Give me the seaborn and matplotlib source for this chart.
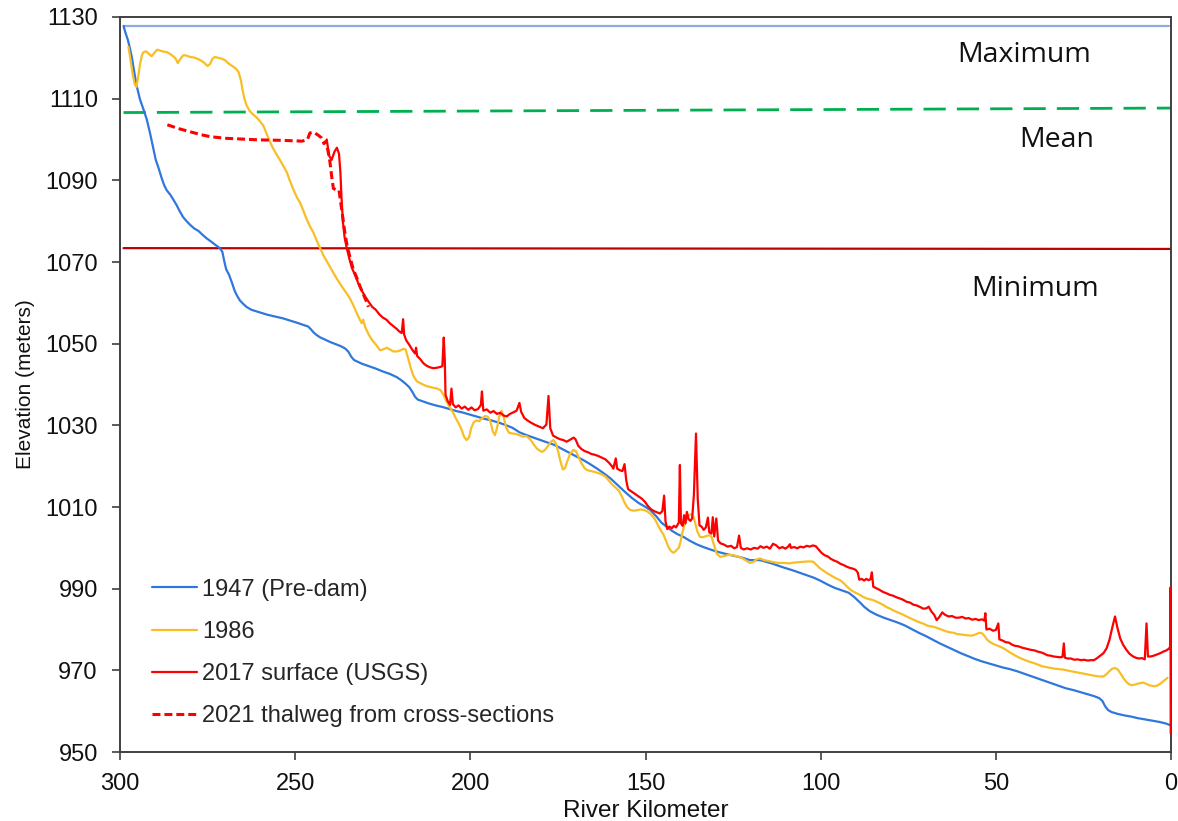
import matplotlib
matplotlib.use("Agg")
import matplotlib.pyplot as plt
import seaborn as sns
import pandas as pd

# ---- profile data: river kilometer vs. elevation (m) ----
km_1947 = [299.0, 298.4, 297.8, 297.2, 296.6, 296.0, 295.3, 294.8, 294.3, 293.4, 292.4, 291.5,
           290.5, 289.8, 289.0, 288.1, 287.4, 286.7, 285.6, 284.8, 283.9, 283.0, 282.0, 281.0,
           280.0, 278.8, 277.6, 276.5, 275.3, 274.0, 272.8, 271.5, 270.8, 270.2, 269.7, 268.9,
           268.0, 267.3, 266.7, 265.8, 264.9, 263.9, 262.5, 261.0, 259.5, 258.0, 256.5, 255.0,
           253.5, 252.0, 250.5, 249.0, 247.7, 246.3, 245.5, 244.8, 244.0, 243.0, 241.5, 240.0,
           238.5, 237.0, 235.7, 234.8, 234.0, 233.2, 232.2, 231.0, 229.0, 227.0, 225.0, 223.0,
           221.0, 219.8, 218.5, 217.4, 216.5, 215.8, 215.0, 214.0, 212.0, 210.0, 208.0, 206.0,
           204.0, 202.0, 200.0, 198.0, 196.0, 194.0, 192.0, 190.0, 188.0, 186.0, 184.0, 182.0,
           180.0, 178.0, 176.0, 174.0, 172.0, 170.0, 168.0, 166.0, 164.0, 162.0, 160.0, 158.0,
           156.0, 154.0, 152.0, 150.0, 148.7, 147.0, 145.5, 144.0, 142.5, 141.0, 139.2, 137.5,
           135.5, 133.5, 131.5, 129.7, 127.5, 125.0, 122.5, 120.2, 117.3, 114.0, 111.0, 108.0,
           105.0, 102.0, 100.2, 98.0, 96.0, 94.0, 92.0, 90.5, 89.0, 87.5, 86.0, 84.0,
           82.0, 80.0, 78.0, 76.0, 74.0, 72.0, 70.0, 68.0, 66.0, 64.0, 62.0, 60.0,
           58.0, 56.0, 54.0, 52.0, 50.0, 48.0, 46.0, 44.0, 42.0, 40.0, 38.0, 36.0,
           34.0, 32.0, 30.0, 28.0, 26.0, 24.0, 22.0, 20.5, 19.6, 18.8, 18.0, 17.0,
           15.5, 13.5, 11.5, 9.5, 7.5, 5.5, 3.5, 1.5, 0.3]
elev_1947 = [1127.8, 1126.0, 1124.5, 1122.4, 1120.0, 1116.8, 1113.3, 1111.5, 1109.8, 1107.6, 1105.0, 1101.8,
             1097.8, 1095.0, 1093.0, 1090.5, 1088.8, 1087.6, 1086.4, 1085.3, 1084.0, 1082.5, 1081.0, 1080.0,
             1079.1, 1078.2, 1077.6, 1076.7, 1075.8, 1075.0, 1074.2, 1073.4, 1072.5, 1070.0, 1068.2, 1066.9,
             1064.8, 1063.0, 1061.9, 1060.6, 1059.8, 1059.0, 1058.3, 1057.9, 1057.5, 1057.1, 1056.8, 1056.5,
             1056.2, 1055.8, 1055.4, 1055.0, 1054.6, 1054.2, 1053.5, 1052.8, 1052.2, 1051.6, 1051.0, 1050.4,
             1049.9, 1049.4, 1048.8, 1048.0, 1046.8, 1046.0, 1045.6, 1045.1, 1044.5, 1043.9, 1043.2, 1042.6,
             1041.8, 1041.1, 1040.2, 1039.3, 1038.1, 1037.0, 1036.3, 1036.0, 1035.4, 1034.9, 1034.5, 1034.0,
             1033.5, 1033.1, 1032.6, 1032.1, 1031.6, 1031.2, 1030.7, 1030.1, 1029.4, 1028.3, 1027.6, 1027.0,
             1026.4, 1025.8, 1025.2, 1024.3, 1023.4, 1022.5, 1021.6, 1020.6, 1019.5, 1018.3, 1017.0, 1015.4,
             1013.8, 1012.3, 1011.0, 1010.0, 1009.3, 1007.8, 1006.2, 1005.2, 1004.2, 1003.4, 1002.7, 1001.8,
             1000.9, 1000.2, 999.6, 999.1, 998.6, 998.1, 997.6, 997.0, 997.0, 996.2, 995.3, 994.5,
             993.6, 992.7, 992.0, 991.0, 990.2, 989.6, 989.0, 988.0, 986.8, 985.5, 984.5, 983.6,
             982.9, 982.3, 981.7, 981.0, 980.1, 979.2, 978.4, 977.5, 976.6, 975.8, 975.0, 974.2,
             973.5, 972.8, 972.2, 971.7, 971.2, 970.7, 970.3, 969.8, 969.2, 968.6, 968.0, 967.4,
             966.8, 966.2, 965.6, 965.2, 964.7, 964.2, 963.7, 963.2, 962.5, 961.2, 960.3, 959.8,
             959.4, 959.0, 958.7, 958.3, 958.0, 957.7, 957.4, 957.0, 956.6]

km_1986 = [297.6, 297.0, 296.4, 295.8, 295.3, 294.8, 294.3, 293.8, 293.4, 292.6, 291.8, 291.0,
           290.2, 289.4, 288.6, 287.5, 286.6, 285.8, 285.0, 284.2, 283.5, 282.8, 282.0, 281.2,
           280.0, 279.0, 278.0, 277.0, 276.0, 275.0, 274.3, 273.6, 272.9, 272.0, 271.0, 270.0,
           269.0, 268.0, 267.0, 266.2, 265.5, 265.0, 264.5, 263.9, 263.0, 262.0, 261.0, 260.0,
           259.1, 258.2, 257.3, 256.3, 255.3, 254.3, 253.3, 252.4, 251.4, 250.4, 249.5, 248.6,
           247.6, 246.7, 245.7, 244.8, 244.0, 243.0, 242.0, 241.0, 240.0, 239.1, 238.2, 237.3,
           236.3, 235.3, 234.4, 233.4, 232.5, 231.5, 231.0, 230.6, 230.0, 229.0, 228.0, 227.0,
           225.8, 224.9, 223.9, 223.0, 222.0, 221.0, 220.1, 219.2, 218.5, 217.8, 217.0, 216.2,
           215.3, 214.0, 212.5, 211.0, 209.5, 208.5, 207.7, 206.8, 206.0, 205.0, 204.2, 203.3,
           202.5, 201.8, 201.1, 200.4, 199.7, 199.0, 198.3, 197.5, 196.7, 195.8, 195.0, 194.3,
           193.6, 193.0, 192.4, 191.8, 191.1, 190.5, 189.8, 189.0, 188.0, 187.0, 186.0, 185.0,
           184.2, 183.4, 182.6, 181.8, 181.0, 180.2, 179.5, 178.7, 177.8, 177.0, 176.3, 175.6,
           175.0, 174.3, 173.6, 173.0, 172.3, 171.5, 170.6, 169.8, 169.0, 168.2, 167.4, 166.6,
           165.5, 164.5, 163.5, 162.5, 161.5, 160.5, 159.5, 158.5, 157.6, 156.7, 156.0, 155.2,
           154.4, 153.5, 152.5, 151.5, 150.6, 149.6, 148.7, 147.8, 147.0, 146.3, 145.6, 144.9,
           144.2, 143.5, 142.8, 142.1, 141.5, 141.0, 140.5, 140.0, 139.5, 139.0, 138.5, 138.0,
           137.5, 136.9, 136.4, 135.8, 135.2, 134.5, 133.6, 132.7, 131.8, 131.2, 130.5, 129.7,
           128.7, 127.5, 126.3, 125.0, 123.8, 122.5, 121.3, 120.2, 119.2, 118.3, 117.3, 116.2,
           115.0, 113.5, 112.0, 110.5, 109.0, 107.5, 106.0, 104.5, 103.4, 102.1, 101.2, 100.2,
           99.2, 98.2, 97.2, 96.2, 95.3, 94.5, 93.5, 92.6, 91.6, 90.7, 89.8, 88.8,
           87.9, 86.9, 86.0, 85.0, 84.0, 83.0, 82.1, 81.2, 80.2, 79.3, 78.3, 77.4,
           76.4, 75.5, 74.5, 73.5, 72.5, 71.6, 70.6, 69.7, 68.8, 67.9, 66.9, 65.9,
           65.0, 64.0, 63.0, 62.0, 61.1, 60.1, 59.2, 58.2, 57.2, 56.4, 55.5, 54.8,
           54.0, 53.3, 52.6, 51.8, 51.0, 50.0, 48.8, 47.6, 46.4, 45.2, 44.0, 42.8,
           41.6, 40.4, 39.2, 38.0, 36.8, 35.6, 34.4, 33.2, 32.0, 30.9, 29.8, 28.6,
           27.4, 26.2, 25.0, 23.8, 22.6, 21.4, 20.3, 19.3, 18.5, 17.6, 16.8, 16.0,
           15.2, 14.4, 13.6, 12.8, 12.0, 11.2, 10.4, 9.6, 8.8, 7.9, 7.1, 6.3,
           5.5, 4.7, 3.9, 3.1, 2.3, 1.5, 1.0]
elev_1986 = [1122.7, 1119.5, 1116.0, 1113.5, 1112.9, 1115.5, 1118.4, 1120.5, 1121.3, 1121.6, 1121.0, 1120.4,
             1121.2, 1122.0, 1121.8, 1121.5, 1121.4, 1121.0, 1120.5, 1119.9, 1118.7, 1119.7, 1120.6, 1120.6,
             1120.2, 1120.1, 1119.8, 1119.4, 1118.8, 1118.0, 1118.5, 1119.8, 1120.2, 1120.0, 1119.8, 1119.4,
             1118.6, 1118.0, 1117.4, 1116.6, 1114.5, 1112.0, 1110.0, 1108.4, 1107.0, 1106.1, 1105.4, 1104.4,
             1103.4, 1101.5, 1099.6, 1097.8, 1096.3, 1094.9, 1093.4, 1092.0, 1089.6, 1087.5, 1085.8, 1084.5,
             1082.4, 1080.4, 1078.6, 1077.2, 1075.5, 1073.6, 1071.7, 1070.2, 1068.7, 1067.3, 1066.0, 1064.8,
             1063.5, 1062.3, 1061.1, 1059.4, 1057.6, 1055.8, 1055.0, 1055.9, 1054.0, 1052.2, 1050.8, 1049.8,
             1048.4, 1048.6, 1049.0, 1048.6, 1048.1, 1048.1, 1048.3, 1048.7, 1048.6, 1046.5, 1044.0, 1042.0,
             1040.8, 1040.2, 1039.6, 1039.3, 1039.0, 1038.6, 1037.5, 1035.8, 1034.6, 1033.2, 1031.8, 1030.4,
             1028.9, 1027.2, 1026.4, 1027.0, 1029.5, 1030.8, 1031.2, 1031.0, 1031.7, 1032.3, 1032.1, 1031.0,
             1028.5, 1027.6, 1029.3, 1032.0, 1033.6, 1032.0, 1029.5, 1028.2, 1028.0, 1027.9, 1027.6, 1027.2,
             1027.4, 1027.0, 1026.2, 1025.2, 1024.3, 1023.8, 1023.5, 1024.0, 1025.0, 1026.0, 1026.4, 1025.6,
             1023.8, 1021.2, 1019.2, 1019.5, 1021.3, 1023.1, 1024.0, 1023.6, 1022.0, 1020.6, 1019.5, 1019.0,
             1018.8, 1018.6, 1018.3, 1018.0, 1017.5, 1016.5, 1015.5, 1014.7, 1014.0, 1012.5, 1011.1, 1009.9,
             1009.3, 1009.1, 1009.2, 1009.4, 1009.3, 1009.0, 1008.4, 1007.6, 1006.5, 1005.3, 1004.2, 1003.3,
             1001.8, 1000.3, 999.3, 998.8, 999.1, 999.6, 1000.0, 1001.5, 1003.7, 1005.3, 1006.6, 1007.6,
             1008.1, 1008.2, 1007.8, 1006.0, 1004.0, 1002.7, 1002.6, 1002.9, 1003.1, 1002.8, 1000.8, 998.6,
             997.8, 998.0, 998.3, 998.2, 997.9, 997.5, 996.9, 996.3, 996.6, 997.2, 997.4, 997.0,
             996.8, 996.5, 996.3, 996.3, 996.2, 996.4, 996.5, 996.6, 996.7, 996.6, 995.8, 995.0,
             994.4, 993.8, 993.3, 992.8, 992.4, 992.1, 991.4, 990.6, 989.8, 989.3, 988.9, 988.5,
             988.0, 987.6, 987.4, 987.2, 986.8, 986.4, 986.0, 985.5, 985.1, 984.7, 984.3, 984.0,
             983.6, 983.2, 982.8, 982.4, 982.0, 981.7, 981.4, 981.0, 980.8, 980.7, 980.4, 980.1,
             979.8, 979.5, 979.3, 979.2, 978.9, 978.8, 978.7, 978.6, 978.5, 978.6, 978.9, 979.2,
             979.1, 978.5, 977.6, 977.0, 976.6, 976.2, 975.8, 975.3, 974.6, 974.0, 973.4, 972.9,
             972.5, 972.1, 971.8, 971.4, 971.0, 970.8, 970.6, 970.4, 970.3, 970.2, 970.0, 969.8,
             969.6, 969.4, 969.2, 969.0, 968.8, 968.6, 968.5, 968.5, 969.0, 969.8, 970.4, 970.6,
             970.2, 969.2, 968.1, 967.2, 966.6, 966.4, 966.5, 966.7, 966.9, 967.0, 966.7, 966.4,
             966.2, 966.1, 966.3, 966.7, 967.3, 967.8, 968.2]

km_2017 = [241.0, 240.3, 239.6, 238.8, 238.1, 237.5, 237.1, 236.8, 236.4, 235.9, 235.3, 234.6,
           233.8, 233.0, 232.0, 231.0, 230.0, 229.0, 228.0, 227.0, 226.0, 225.0, 224.0, 223.0,
           222.0, 221.0, 220.3, 219.6, 219.2, 218.9, 218.3, 217.5, 216.5, 215.8, 215.5, 215.2,
           214.3, 213.4, 212.5, 211.5, 210.6, 209.6, 208.6, 208.0, 207.6, 207.3, 207.1, 206.5,
           205.8, 205.4, 205.0, 204.2, 203.4, 202.5, 201.6, 200.6, 199.7, 198.8, 197.8, 197.0,
           196.7, 196.3, 195.3, 194.3, 193.4, 192.4, 191.5, 190.5, 189.6, 188.7, 187.7, 186.8,
           186.0, 185.5, 184.6, 183.7, 182.6, 181.5, 180.4, 179.3, 178.3, 177.7, 177.2, 176.4,
           175.4, 174.4, 173.5, 172.5, 171.5, 170.5, 170.0, 169.2, 168.3, 167.4, 166.4, 165.5,
           164.5, 163.5, 162.5, 161.5, 160.5, 159.6, 159.2, 158.5, 158.1, 157.3, 156.6, 156.0,
           155.5, 155.0, 154.0, 153.0, 152.0, 151.0, 150.1, 149.3, 148.5, 147.6, 146.7, 145.9,
           145.2, 144.7, 144.3, 143.8, 143.2, 142.5, 141.9, 141.3, 140.5, 140.2, 139.9, 139.4,
           139.0, 138.6, 138.2, 137.7, 137.2, 136.7, 136.2, 135.6, 135.1, 134.6, 134.0, 133.4,
           132.8, 132.2, 131.8, 131.2, 130.8, 130.4, 129.8, 129.3, 128.6, 127.6, 126.6, 125.6,
           124.7, 123.9, 123.3, 122.8, 122.0, 121.0, 120.0, 119.0, 118.0, 117.2, 116.3, 115.4,
           114.5, 113.6, 112.7, 111.8, 110.9, 110.1, 109.3, 108.8, 108.5, 107.6, 106.7, 105.8,
           104.9, 104.0, 103.1, 102.2, 101.4, 100.6, 99.8, 98.9, 98.0, 97.1, 96.2, 95.3,
           94.4, 93.5, 92.6, 91.7, 90.8, 90.0, 89.4, 89.0, 88.3, 87.6, 87.0, 86.4,
           85.8, 85.4, 85.0, 84.1, 83.2, 82.2, 81.3, 80.3, 79.4, 78.4, 77.4, 76.5,
           75.5, 74.5, 73.6, 72.6, 71.6, 70.7, 69.8, 69.2, 68.4, 67.6, 66.9, 66.2,
           65.3, 64.5, 63.5, 62.5, 61.5, 60.6, 59.6, 58.7, 57.7, 56.8, 55.8, 54.9,
           54.0, 53.3, 53.0, 52.7, 51.8, 50.8, 50.0, 49.3, 49.0, 48.1, 47.2, 46.3,
           45.4, 44.5, 43.6, 42.7, 41.8, 40.8, 39.9, 39.0, 38.1, 37.1, 36.2, 35.3,
           34.4, 33.5, 32.6, 31.7, 31.0, 30.6, 30.3, 29.5, 28.6, 27.6, 26.7, 25.7,
           24.8, 23.8, 22.9, 22.0, 21.1, 20.2, 19.3, 18.4, 17.6, 16.8, 16.0, 15.3,
           14.5, 13.7, 12.8, 11.9, 11.0, 10.1, 9.2, 8.3, 7.5, 7.0, 6.6, 5.8,
           4.9, 4.0, 3.1, 2.2, 1.3, 0.5, 0.2, 0.15, 0.1]
elev_2017 = [1100.0, 1096.0, 1095.0, 1097.0, 1098.0, 1096.5, 1092.0, 1086.0, 1080.0, 1076.0, 1073.5, 1071.0,
             1068.5, 1067.0, 1064.8, 1063.0, 1061.5, 1060.2, 1059.0, 1058.3, 1057.2, 1056.4, 1055.9, 1055.0,
             1054.3, 1053.6, 1053.0, 1052.6, 1056.0, 1052.2, 1050.8, 1049.8, 1048.4, 1047.6, 1049.0, 1047.0,
             1046.2, 1045.2, 1044.6, 1044.2, 1044.0, 1044.1, 1044.3, 1044.5, 1051.5, 1046.0, 1037.5, 1036.0,
             1035.0, 1039.0, 1035.2, 1034.4, 1034.9, 1034.1, 1034.6, 1033.8, 1034.4, 1033.7, 1034.0, 1035.0,
             1038.3, 1033.6, 1033.9, 1033.1, 1033.5, 1032.8, 1033.1, 1032.4, 1032.2, 1032.8, 1033.2, 1033.6,
             1035.5, 1033.3, 1031.8, 1031.2, 1030.6, 1030.1, 1029.7, 1029.3, 1030.2, 1037.2, 1029.3, 1027.5,
             1027.0, 1026.6, 1026.4, 1026.0, 1026.5, 1027.0, 1026.6, 1025.0, 1024.2, 1023.7, 1023.4, 1023.0,
             1022.8, 1022.5, 1022.1, 1021.7, 1020.9, 1020.0, 1019.4, 1021.9, 1019.4, 1019.0, 1018.8, 1020.5,
             1016.5, 1014.4, 1013.8, 1013.2, 1012.6, 1012.0, 1011.2, 1010.2, 1009.5, 1009.0, 1008.7, 1008.4,
             1009.0, 1012.8, 1006.5, 1004.6, 1005.2, 1004.8, 1005.4, 1005.0, 1006.2, 1020.3, 1006.0, 1005.4,
             1008.0, 1006.0, 1008.8, 1007.0, 1006.6, 1007.2, 1013.0, 1028.0, 1012.0, 1005.5, 1005.2, 1004.4,
             1005.0, 1007.4, 1003.8, 1003.5, 1007.5, 1002.8, 1007.2, 1001.8, 1001.1, 1000.8, 1000.3, 1000.5,
             999.9, 1000.2, 1003.0, 1000.0, 999.6, 999.9, 999.6, 1000.0, 999.8, 1000.4, 1000.0, 1000.3,
             999.8, 1001.0, 1000.6, 999.9, 1000.2, 999.8, 1000.3, 1000.9, 1000.0, 1000.2, 999.9, 1000.3,
             1000.1, 1000.5, 1000.3, 1000.6, 1000.4, 999.6, 998.8, 998.2, 997.9, 997.3, 996.9, 996.6,
             996.1, 995.8, 995.4, 995.1, 994.9, 994.6, 993.9, 992.2, 992.4, 992.0, 992.4, 992.1,
             992.3, 994.0, 990.5, 990.1, 989.7, 989.2, 988.9, 988.5, 988.3, 987.9, 987.6, 987.3,
             986.8, 986.6, 986.1, 985.9, 985.5, 985.1, 985.2, 985.6, 984.4, 983.6, 982.3, 983.0,
             984.2, 983.6, 983.2, 983.3, 982.9, 982.9, 983.1, 982.7, 982.8, 982.4, 982.6, 982.3,
             982.5, 982.2, 984.0, 980.0, 980.2, 979.7, 979.9, 981.5, 977.6, 977.3, 976.9, 976.8,
             976.3, 976.0, 975.9, 975.6, 975.4, 975.2, 975.0, 974.9, 974.6, 974.4, 974.1, 973.7,
             973.6, 973.4, 973.3, 973.2, 973.3, 976.6, 973.1, 972.9, 972.9, 972.6, 972.7, 972.5,
             972.6, 972.4, 972.5, 972.5, 973.0, 973.6, 974.2, 975.4, 977.4, 980.4, 983.2, 980.4,
             977.8, 976.3, 975.1, 974.1, 973.5, 973.1, 972.9, 973.0, 972.7, 981.5, 973.4, 973.4,
             973.6, 973.9, 974.2, 974.6, 974.9, 975.4, 976.0, 990.3, 954.6]

km_2021 = [286.5, 283.0, 280.0, 277.0, 274.3, 270.0, 265.0, 260.0, 254.0, 248.0, 246.5, 245.8,
           244.8, 243.5, 242.5, 241.8, 241.2, 240.6, 240.1, 239.6, 239.1, 238.2, 237.5, 237.0,
           236.5, 235.8, 235.1, 234.3, 233.4, 232.5, 231.5, 230.6, 229.6, 229.1]
elev_2021 = [1103.6, 1102.6, 1101.9, 1101.2, 1100.7, 1100.3, 1100.1, 1099.9, 1099.8, 1099.6, 1100.0, 1101.6,
             1101.8, 1101.1, 1100.4, 1099.0, 1099.6, 1097.0, 1094.6, 1091.0, 1088.0, 1087.6, 1087.6, 1084.5,
             1081.5, 1077.0, 1073.6, 1071.0, 1068.1, 1066.3, 1064.0, 1062.2, 1060.2, 1059.0]

# reservoir pool levels
pool_km = [299.0, 0.5]
pool_max = [1127.8, 1127.8]
pool_mean = [1106.6, 1107.7]
pool_min = [1073.4, 1073.2]
pool_labels = ["Maximum", "Mean", "Minimum"]
pool_label_km = [42.0, 32.5, 38.8]
pool_label_elev = [1120.7, 1099.9, 1063.4]

x_ticks = [300, 250, 200, 150, 100, 50, 0]
y_ticks = list(range(950, 1131, 20))

sns.set_theme(style="white")
plt.rcParams["font.family"] = ["Liberation Sans", "DejaVu Sans"]

fig, ax = plt.subplots(figsize=(11.78, 8.21), dpi=100)
fig.subplots_adjust(left=0.1019, right=0.9941, top=0.9793, bottom=0.0840)

# pool lines
sns.lineplot(x=pool_km, y=pool_max, ax=ax, color="#8FAADC", linewidth=1.6, sort=False, estimator=None)
sns.lineplot(x=[299.0, 0.0], y=pool_mean, ax=ax, color="#00B050", linewidth=2.0,
             sort=False, estimator=None, dashes=False, linestyle=(0, (8, 4)))
sns.lineplot(x=[299.0, 0.0], y=pool_min, ax=ax, color="#C00000", linewidth=1.6, sort=False, estimator=None)

series = [
    (km_1947, elev_1947, "1947 (Pre-dam)", "#2F77DD", "-", 1.6),
    (km_1986, elev_1986, "1986", "#F8BE25", "-", 1.6),
    (km_2017, elev_2017, "2017 surface (USGS)", "#FF0000", "-", 1.6),
    (km_2021, elev_2021, "2021 thalweg from cross-sections", "#FF0000", (0, (2.6, 1.3)), 2.2),
]
for km, elev, label, color, ls, lw in series:
    df = pd.DataFrame({"km": km, "elev": elev})
    sns.lineplot(data=df, x="km", y="elev", ax=ax, color=color, linewidth=lw, zorder=3,
                 linestyle=ls, label=label, sort=False, estimator=None, legend=False)

for txt, xk, ye in zip(pool_labels, pool_label_km, pool_label_elev):
    ax.text(xk, ye, txt, ha="center", va="center", fontsize=20.5,
            family=["Open Sans", "DejaVu Sans"], color="#111111")

ax.set_xlim(300, 0)
ax.set_ylim(950, 1130)
ax.set_xticks(x_ticks)
ax.set_yticks(y_ticks)
ax.tick_params(axis="both", which="major", labelsize=17, direction="out", length=6,
               width=1.2, color="#404040", labelcolor="#111111", bottom=True, left=True,
               top=False, right=False)
ax.tick_params(axis="x", pad=9)
ax.tick_params(axis="y", pad=10)
for sp in ax.spines.values():
    sp.set_visible(True)
    sp.set_color("#404040")
    sp.set_linewidth(1.4)

ax.set_xlabel("River Kilometer", fontsize=17.5, color="#111111", labelpad=4)
ax.set_ylabel("Elevation (meters)", fontsize=15, color="#111111", labelpad=7)

handles, labels = ax.get_legend_handles_labels()
ax.legend(handles, labels, loc="upper left", bbox_to_anchor=(0.0304, 0.236), frameon=False,
          fontsize=17, handlelength=1.9, handletextpad=0.21, labelspacing=0.86,
          borderpad=0, borderaxespad=0)

fig.savefig("out.png", dpi=100)
